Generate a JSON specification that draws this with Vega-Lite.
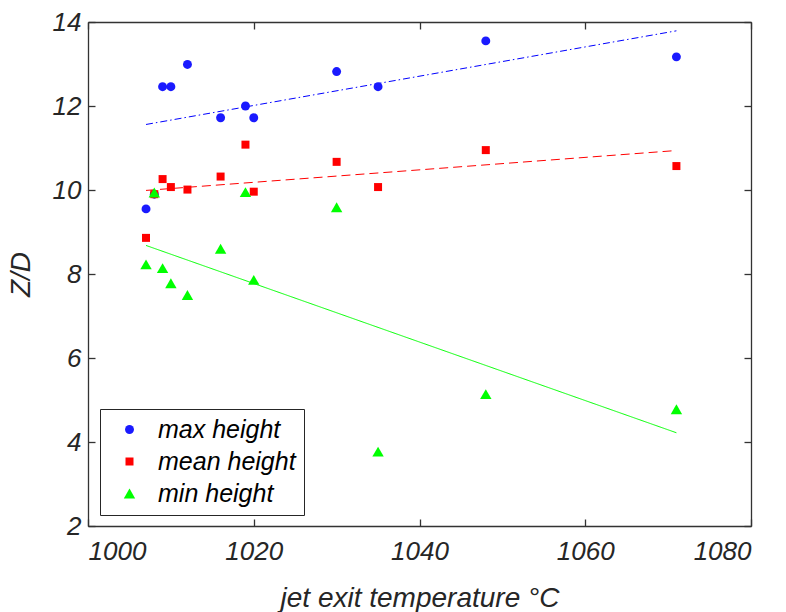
{
  "$schema": "https://vega.github.io/schema/vega-lite/v6.json",
  "width": 663,
  "height": 504,
  "autosize": "none",
  "padding": {"left": 88, "top": 22, "right": 35, "bottom": 86},
  "background": "white",
  "config": {
    "view": {"stroke": null},
    "axis": {
      "grid": false,
      "domainColor": "#333333",
      "tickColor": "#333333",
      "labelColor": "#262626",
      "titleColor": "#262626",
      "labelFont": "Liberation Sans",
      "titleFont": "Liberation Sans",
      "labelFontStyle": "italic",
      "titleFontStyle": "italic",
      "labelFontSize": 26,
      "titleFontSize": 28,
      "titleFontWeight": "normal",
      "tickSize": -7,
      "domainWidth": 1.3,
      "tickWidth": 1.3
    }
  },
  "datasets": {
    "pts": [
      {"series": "max height", "T": 1007, "Z": 9.55},
      {"series": "max height", "T": 1008, "Z": 9.9},
      {"series": "max height", "T": 1009, "Z": 12.46},
      {"series": "max height", "T": 1010, "Z": 12.46},
      {"series": "max height", "T": 1012, "Z": 12.99},
      {"series": "max height", "T": 1016, "Z": 11.72},
      {"series": "max height", "T": 1019, "Z": 12.0},
      {"series": "max height", "T": 1020, "Z": 11.72},
      {"series": "max height", "T": 1030, "Z": 12.82},
      {"series": "max height", "T": 1035, "Z": 12.46},
      {"series": "max height", "T": 1048, "Z": 13.55},
      {"series": "max height", "T": 1071, "Z": 13.17},
      {"series": "mean height", "T": 1007, "Z": 8.86},
      {"series": "mean height", "T": 1008, "Z": 9.9},
      {"series": "mean height", "T": 1009, "Z": 10.26},
      {"series": "mean height", "T": 1010, "Z": 10.07},
      {"series": "mean height", "T": 1012, "Z": 10.01},
      {"series": "mean height", "T": 1016, "Z": 10.32},
      {"series": "mean height", "T": 1019, "Z": 11.08},
      {"series": "mean height", "T": 1020, "Z": 9.96},
      {"series": "mean height", "T": 1030, "Z": 10.67},
      {"series": "mean height", "T": 1035, "Z": 10.07},
      {"series": "mean height", "T": 1048, "Z": 10.95},
      {"series": "mean height", "T": 1071, "Z": 10.57},
      {"series": "min height", "T": 1007, "Z": 8.23},
      {"series": "min height", "T": 1008, "Z": 9.94},
      {"series": "min height", "T": 1009, "Z": 8.14},
      {"series": "min height", "T": 1010, "Z": 7.78},
      {"series": "min height", "T": 1012, "Z": 7.5},
      {"series": "min height", "T": 1016, "Z": 8.6},
      {"series": "min height", "T": 1019, "Z": 9.95},
      {"series": "min height", "T": 1020, "Z": 7.86},
      {"series": "min height", "T": 1030, "Z": 9.59},
      {"series": "min height", "T": 1035, "Z": 3.77},
      {"series": "min height", "T": 1048, "Z": 5.14},
      {"series": "min height", "T": 1071, "Z": 4.78}
    ],
    "fits": [
      {"fit": "max fit", "T": 1007, "Z": 11.56},
      {"fit": "max fit", "T": 1071, "Z": 13.79},
      {"fit": "mean fit", "T": 1007, "Z": 9.99},
      {"fit": "mean fit", "T": 1071, "Z": 10.94},
      {"fit": "min fit", "T": 1007, "Z": 8.68},
      {"fit": "min fit", "T": 1071, "Z": 4.22}
    ]
  },
  "layer": [
    {
      "data": {"name": "fits"},
      "mark": {"type": "line", "strokeWidth": 1},
      "encoding": {
        "x": {"field": "T", "type": "quantitative",
          "scale": {"domain": [1000, 1080], "nice": false, "zero": false},
          "axis": {"orient": "top", "labels": false, "title": null, "values": [1000, 1020, 1040, 1060, 1080]}},
        "y": {"field": "Z", "type": "quantitative",
          "scale": {"domain": [2, 14], "nice": false, "zero": false},
          "axis": {"orient": "right", "labels": false, "title": null, "values": [2, 4, 6, 8, 10, 12, 14]}},
        "stroke": {"field": "fit", "type": "nominal",
          "scale": {"domain": ["max fit", "mean fit", "min fit"], "range": ["#0000ff", "#ff0000", "#00ff00"]},
          "legend": null},
        "strokeDash": {"field": "fit", "type": "nominal",
          "scale": {"domain": ["max fit", "mean fit", "min fit"], "range": [[7, 3, 1.5, 3], [9, 5], [1, 0]]},
          "legend": null}
      }
    },
    {
      "data": {"name": "pts"},
      "mark": {"type": "point", "filled": true, "opacity": 1},
      "encoding": {
        "x": {"field": "T", "type": "quantitative",
          "scale": {"domain": [1000, 1080], "nice": false, "zero": false},
          "axis": {"orient": "bottom", "title": "jet exit temperature  \u00b0C", "format": "d", "values": [1000, 1020, 1040, 1060, 1080], "labelPadding": 19, "titlePadding": 20}},
        "y": {"field": "Z", "type": "quantitative",
          "scale": {"domain": [2, 14], "nice": false, "zero": false},
          "axis": {"orient": "left", "title": "Z/D", "values": [2, 4, 6, 8, 10, 12, 14], "labelPadding": 14, "titlePadding": 17}},
        "color": {"field": "series", "type": "nominal", "title": null,
          "scale": {"domain": ["max height", "mean height", "min height"], "range": ["#1a1aff", "#ff0000", "#00ff00"]},
          "legend": {"orient": "none", "legendX": 12, "legendY": 387, "strokeColor": "#262626", "fillColor": "white", "padding": 8, "labelFontSize": 25, "labelFont": "Liberation Sans", "labelFontStyle": "italic", "labelColor": "black", "rowPadding": 6, "symbolOffset": 9, "labelOffset": 16, "labelLimit": 300}},
        "shape": {"field": "series", "type": "nominal", "title": null,
          "scale": {"domain": ["max height", "mean height", "min height"], "range": ["circle", "square", "triangle-up"]},
          "legend": {"orient": "none", "legendX": 12, "legendY": 387, "strokeColor": "#262626", "fillColor": "white", "padding": 8, "labelFontSize": 25, "labelFont": "Liberation Sans", "labelFontStyle": "italic", "labelColor": "black", "rowPadding": 6, "symbolOffset": 9, "labelOffset": 16, "labelLimit": 300}},
        "size": {"field": "series", "type": "nominal", "title": null,
          "scale": {"type": "ordinal", "domain": ["max height", "mean height", "min height"], "range": [80, 64, 130]},
          "legend": {"orient": "none", "legendX": 12, "legendY": 387, "strokeColor": "#262626", "fillColor": "white", "padding": 8, "labelFontSize": 25, "labelFont": "Liberation Sans", "labelFontStyle": "italic", "labelColor": "black", "rowPadding": 6, "symbolOffset": 9, "labelOffset": 16, "labelLimit": 300}}
      }
    }
  ],
  "resolve": {"axis": {"x": "independent", "y": "independent"}}
}
